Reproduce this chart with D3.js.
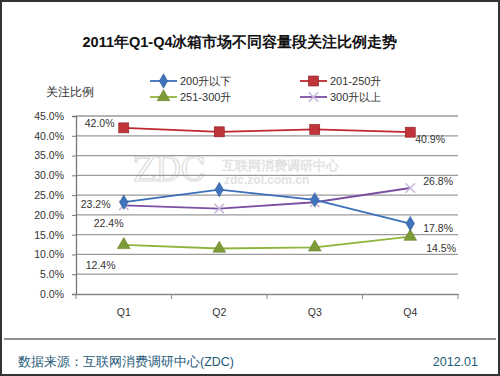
<!DOCTYPE html>
<html><head><meta charset="utf-8">
<script src="https://cdn.jsdelivr.net/npm/d3@7"></script>
<style>body{margin:0;background:#fff}svg{display:block}</style>
</head><body>
<script>
const categories = ["Q1","Q2","Q3","Q4"];
const seriesNames = ["200升以下","201-250升","251-300升","300升以上"];
const s200 = [23.2, 26.4, 23.8, 17.8];
const s201 = [42.0, 41.0, 41.6, 40.9];
const s251 = [12.4, 11.5, 11.8, 14.5];
const s300 = [22.4, 21.6, 23.2, 26.8];
const yTicks = [0,5,10,15,20,25,30,35,40,45];
const labels = [
  {s:1,i:0,t:"42.0%",dx:-39,dy:-1},
  {s:0,i:0,t:"23.2%",dx:-43,dy:6},
  {s:3,i:0,t:"22.4%",dx:-30,dy:22},
  {s:2,i:0,t:"12.4%",dx:-38,dy:24},
  {s:1,i:3,t:"40.9%",dx:5,dy:11},
  {s:3,i:3,t:"26.8%",dx:13,dy:-3},
  {s:0,i:3,t:"17.8%",dx:13,dy:8},
  {s:2,i:3,t:"14.5%",dx:16,dy:15}
];
const data = [s200, s201, s251, s300];
const colors = ["#3b70b6","#c0282d","#8fb43b","#7b50a4"];
const markerFill = ["#3f74bd","#c0353a","#7d9b37","#c9b8dc"];
const font = "'Liberation Sans', Arial, sans-serif";

const W=500,H=376;
const svg = d3.select("body").append("svg").attr("width",W).attr("height",H).style("font-family",font);
svg.append("rect").attr("x",1).attr("y",1).attr("width",W-2).attr("height",H-2).attr("fill","#fff").attr("stroke","#333").attr("stroke-width",2);

svg.append("text").attr("x",240).attr("y",47).attr("text-anchor","middle")
  .attr("font-size",14.5).attr("font-weight","bold").attr("fill","#111").text("2011年Q1-Q4冰箱市场不同容量段关注比例走势");

const x = d3.scaleBand().domain(categories).range([76,458]);
const y = d3.scaleLinear().domain([0,45]).range([294,116]);

// watermark
const wm = svg.append("g").attr("fill","#e2e2e2");
wm.append("text").attr("x",133).attr("y",181).attr("font-size",33).attr("font-family","'DejaVu Serif', serif").attr("letter-spacing",-1).attr("fill","none").attr("stroke","#dcdcdc").attr("stroke-width",1.2).text("ZDC");
wm.append("text").attr("x",222).attr("y",170).attr("font-size",13).attr("font-weight","bold").text("互联网消费调研中心");
wm.append("text").attr("x",224).attr("y",184).attr("font-size",12).attr("font-weight","bold").text("zdc.zol.com.cn");

// gridlines
svg.append("g").selectAll("line").data(yTicks.filter(d=>d>0)).join("line")
  .attr("x1",76).attr("x2",458).attr("y1",d=>y(d)).attr("y2",d=>y(d))
  .attr("stroke","#9a9a9a").attr("stroke-width",1.3);

// y axis
const ya = svg.append("g").attr("transform","translate(76,0)")
  .call(d3.axisLeft(y).tickValues(yTicks).tickSize(4).tickFormat(d=>d.toFixed(1)+"%"));
ya.select(".domain").attr("stroke","#777").attr("stroke-width",1.3);
ya.selectAll(".tick line").attr("stroke","#777");
ya.selectAll("text").attr("font-size",10.5).attr("font-family",font).attr("fill","#333").attr("x",-12);

// x axis
const xa = svg.append("g").attr("transform","translate(0,294)")
  .call(d3.axisBottom(x).tickSize(0));
xa.select(".domain").attr("stroke","#888").attr("stroke-width",1.3);
xa.selectAll("text").attr("font-size",10.5).attr("font-family",font).attr("fill","#333").attr("dy",0).attr("y",22);
svg.append("g").selectAll("line").data([76].concat(categories.map(c=>x(c)+x.bandwidth()))).join("line")
  .attr("x1",d=>d).attr("x2",d=>d).attr("y1",294).attr("y2",299).attr("stroke","#888");

svg.append("text").attr("x",46).attr("y",96).attr("font-size",12).attr("fill","#333").text("关注比例");

const cx = c=>x(c)+x.bandwidth()/2;
const line = d3.line().x((d,i)=>cx(categories[i])).y(d=>y(d));

function marker(g,k,px,py){
  if(k===0){ g.append("path").attr("d",d3.symbol(d3.symbolDiamond,60)()).attr("transform",`translate(${px},${py})`).attr("fill",markerFill[0]).attr("stroke","#2c5a96").attr("stroke-width",0.6); }
  else if(k===1){ g.append("rect").attr("x",px-5).attr("y",py-5).attr("width",10).attr("height",10).attr("fill",markerFill[1]).attr("stroke","#8e1c20").attr("stroke-width",0.6); }
  else if(k===2){ g.append("path").attr("d",d3.symbol(d3.symbolTriangle,70)()).attr("transform",`translate(${px},${py})`).attr("fill",markerFill[2]).attr("stroke","#667f2a").attr("stroke-width",0.6); }
  else { g.append("path").attr("d",d3.symbol(d3.symbolX,60)()).attr("transform",`translate(${px},${py})`).attr("fill","none").attr("stroke",markerFill[3]).attr("stroke-width",1.6); }
}

const draw = [2,3,0,1];
draw.forEach(k=>{
  const g = svg.append("g");
  g.append("path").datum(data[k]).attr("d",line).attr("fill","none").attr("stroke",colors[k]).attr("stroke-width",1.8);
  data[k].forEach((v,i)=>marker(g,k,cx(categories[i]),y(v)));
});

// data labels
svg.append("g").selectAll("text").data(labels).join("text")
  .attr("x",d=>cx(categories[d.i])+d.dx).attr("y",d=>y(data[d.s][d.i])+d.dy)
  .attr("font-size",10.5).attr("fill","#333").text(d=>d.t);

// legend
const legPos = [[150,81],[300,81],[150,97],[300,97]];
seriesNames.forEach((n,k)=>{
  const [lx,ly]=legPos[k];
  const g = svg.append("g");
  g.append("line").attr("x1",lx).attr("x2",lx+27).attr("y1",ly).attr("y2",ly).attr("stroke",colors[k]).attr("stroke-width",1.8);
  marker(g,k,lx+13.5,ly);
  g.append("text").attr("x",lx+30).attr("y",ly+4).attr("font-size",11).attr("fill","#333").text(n);
});

// footer
svg.append("line").attr("x1",4).attr("x2",496).attr("y1",339).attr("y2",339).attr("stroke","#222").attr("stroke-width",1);
svg.append("text").attr("x",18).attr("y",366).attr("font-size",12.5).attr("fill","#1e5a78").text("数据来源：互联网消费调研中心(ZDC)");
svg.append("text").attr("x",478).attr("y",366).attr("text-anchor","end").attr("font-size",12.5).attr("fill","#1e5a78").text("2012.01");
</script>
</body></html>
